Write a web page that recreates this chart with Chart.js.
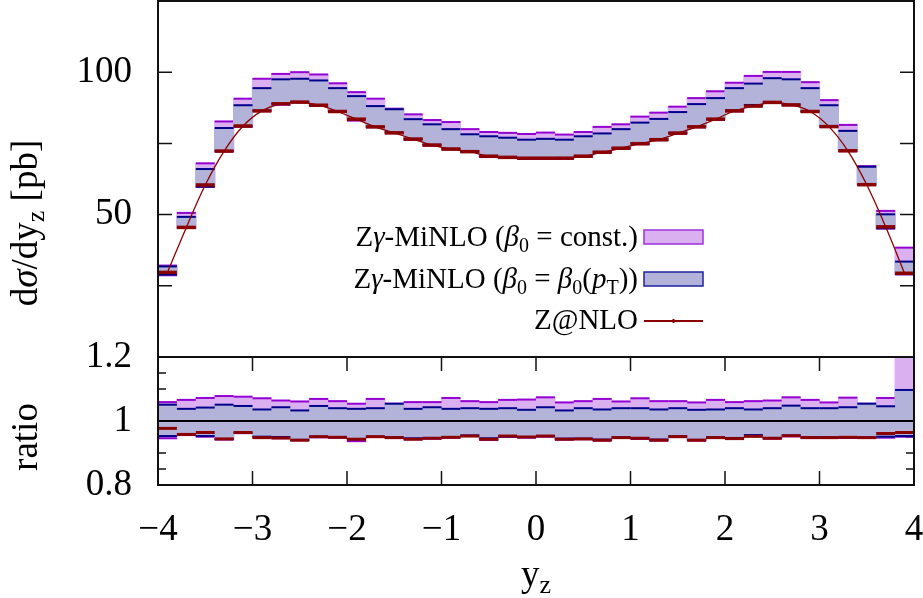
<!DOCTYPE html>
<html><head><meta charset="utf-8">
<script src="https://cdn.jsdelivr.net/npm/chart.js@4.4.0/dist/chart.umd.min.js"></script>
<style>
html,body{margin:0;padding:0;background:#fff;width:923px;height:598px;overflow:hidden;}
canvas{position:absolute;left:0;}
#c1{top:0;}
#c2{top:330px;}
</style></head><body>
<canvas id="c1" width="923" height="370"></canvas>
<canvas id="c2" width="923" height="268"></canvas>
<script>
// ---------------- data ----------------
const binCentres = [-3.9,-3.7,-3.5,-3.3,-3.1,-2.9,-2.7,-2.5,-2.3,-2.1,-1.9,-1.7,-1.5,-1.3,-1.1,-0.9,-0.7,-0.5,-0.3,-0.1,
                    0.1,0.3,0.5,0.7,0.9,1.1,1.3,1.5,1.7,1.9,2.1,2.3,2.5,2.7,2.9,3.1,3.3,3.5,3.7,3.9];

// d sigma / dy_z [pb]
const constHi = [32.1,50.6,68.0,82.7,90.7,97.7,99.4,100.0,99.2,96.1,93.0,90.7,87.2,85.2,83.2,82.5,80.0,79.0,78.7,78.3,
                 78.8,78.1,79.0,80.8,81.7,84.4,85.8,87.9,90.9,93.3,96.3,98.7,100.1,100.1,96.5,90.2,81.5,67.0,51.3,38.4];
const constLo = [28.7,45.3,59.7,72.2,80.9,86.4,88.6,89.4,88.3,86.1,83.0,80.7,78.6,76.3,74.3,72.9,72.0,70.2,69.9,69.6,
                 69.6,69.6,70.4,71.7,73.2,74.7,76.1,78.5,80.7,83.4,86.3,88.3,89.3,88.4,86.1,80.8,72.3,60.4,45.1,29.0];
const ptHi    = [31.8,49.2,66.0,80.4,88.4,94.4,97.5,97.7,97.1,94.4,91.6,88.1,87.0,83.5,81.7,80.0,78.2,77.5,77.0,76.3,
                 76.6,76.3,77.5,78.5,80.0,82.3,83.6,86.0,88.8,90.9,94.4,96.0,97.9,97.5,94.4,88.4,79.4,66.8,50.1,33.5];
const ptLo    = [28.9,45.4,59.8,72.3,81.0,86.5,88.9,89.5,88.4,86.3,83.5,80.8,78.8,76.6,74.5,73.1,72.2,70.6,70.1,69.8,
                 69.8,69.9,70.6,72.0,73.4,75.0,76.4,78.7,80.9,83.6,86.6,88.5,89.5,88.6,86.3,81.0,72.5,60.6,45.2,29.1];
const zNLO    = [29.7,45.5,60.4,72.3,81.1,86.4,88.9,89.5,88.4,86.2,83.5,80.8,78.7,76.5,74.4,73.0,72.1,70.5,70.1,69.8,
                 69.8,69.8,70.5,71.9,73.3,74.9,76.3,78.6,80.8,83.5,86.4,88.1,89.4,88.5,86.2,80.9,72.4,60.5,45.7,29.4];

// ratio panel
const rConstHi = [1.059,1.066,1.072,1.078,1.076,1.071,1.064,1.061,1.069,1.062,1.054,1.069,1.054,1.059,1.059,1.072,1.062,1.059,1.066,1.067,
                  1.074,1.058,1.062,1.069,1.061,1.071,1.062,1.062,1.058,1.066,1.059,1.062,1.064,1.074,1.066,1.058,1.073,1.054,1.072,1.250];
const rConstLo = [0.946,0.956,0.951,0.942,0.962,0.950,0.946,0.940,0.949,0.948,0.937,0.950,0.947,0.943,0.945,0.948,0.953,0.941,0.950,0.948,
                  0.951,0.942,0.943,0.939,0.947,0.944,0.939,0.950,0.939,0.947,0.944,0.954,0.945,0.952,0.947,0.947,0.947,0.947,0.948,0.951];
const rPtHi    = [1.051,1.038,1.042,1.051,1.047,1.036,1.043,1.033,1.047,1.040,1.038,1.040,1.054,1.038,1.043,1.038,1.040,1.038,1.040,1.035,
                  1.043,1.033,1.040,1.036,1.040,1.040,1.036,1.040,1.035,1.036,1.040,1.036,1.040,1.048,1.040,1.040,1.043,1.054,1.046,1.097];
const rPtLo    = [0.953,0.958,0.953,0.944,0.963,0.951,0.950,0.941,0.951,0.950,0.943,0.951,0.949,0.946,0.947,0.950,0.955,0.946,0.952,0.950,
                  0.953,0.945,0.945,0.942,0.949,0.947,0.942,0.952,0.941,0.949,0.947,0.956,0.947,0.955,0.949,0.949,0.950,0.949,0.951,0.953];
const rZNLO    = [0.977,0.958,0.964,0.944,0.964,0.948,0.947,0.940,0.951,0.949,0.943,0.951,0.948,0.943,0.946,0.949,0.953,0.943,0.953,0.950,
                  0.953,0.943,0.944,0.940,0.948,0.946,0.940,0.951,0.940,0.948,0.945,0.952,0.946,0.954,0.948,0.948,0.949,0.948,0.961,0.964];
const ratioRef = 1;

// ticks
const xTickValues = [-4,-3,-2,-1,0,1,2,3,4];
const xTickLabels = ['\u22124','\u22123','\u22122','\u22121','0','1','2','3','4'];
const yTopLabelValues = [50,100];
const yTopLabels = ['50','100'];
const yRatioLabelValues = [0.8,1,1.2];
const yRatioLabels = ['0.8','1','1.2'];

// texts
const legendRows = [
  [{t:'Z'},{t:'\u03b3',it:1},{t:'-MiNLO ('},{t:'\u03b2',it:1},{t:'0',sub:1},{t:' = const.)'}],
  [{t:'Z'},{t:'\u03b3',it:1},{t:'-MiNLO ('},{t:'\u03b2',it:1},{t:'0',sub:1},{t:' = '},{t:'\u03b2',it:1},{t:'0',sub:1},{t:'('},{t:'p',it:1},{t:'T',sub:1},{t:'))'}],
  [{t:'Z@NLO'}]
];
const yTitleTop = [{t:'d'},{t:'\u03c3',it:1},{t:'/dy'},{t:'z',sub:1},{t:' [pb]'}];
const yTitleRatio = [{t:'ratio'}];
const xTitle = [{t:'y'},{t:'z',sub:1}];

// ---------------- styles ----------------
const FONT = '"Liberation Serif", "Times New Roman", serif';
const COL = {cFill:'#dbb0f0', cLine:'#9400d3', pFill:'#b3b3da', pLine:'#00008b', z:'#8b0000', axis:'#111'};
const OFF2 = 330;

function band(lo, hi){ return binCentres.map((x,i)=>({x:x, y:[lo[i],hi[i]]})); }
function pts(v){ return binCentres.map((x,i)=>({x:x, y:v[i]})); }
const halfBin = (c)=>{ const s=c.chart.scales.x; return s ? Math.abs(s.getPixelForValue(0.2)-s.getPixelForValue(0))/2 : 9.5; };

function segFont(s,size){ const sz = s.sub ? Math.round(size*0.7) : size; return (s.it?'italic ':'')+sz+'px '+FONT; }
function richWidth(ctx,segs,size){ let w=0; for(const s of segs){ ctx.font=segFont(s,size); w+=ctx.measureText(s.t).width; } return w; }
function drawRich(ctx,segs,x,y,size,align){
  const w = richWidth(ctx,segs,size);
  let cx = align==='right' ? x-w : (align==='center' ? x-w/2 : x);
  ctx.textAlign='left'; ctx.textBaseline='alphabetic'; ctx.fillStyle='#000';
  for(const s of segs){ ctx.font=segFont(s,size); ctx.fillText(s.t,cx,y+(s.sub?size*0.2:0)); cx+=ctx.measureText(s.t).width; }
}

function fillDS(lo,hi,fill,order){
  return {type:'bar', data:band(lo,hi), backgroundColor:fill, borderWidth:0, grouped:false,
    barPercentage:1, categoryPercentage:1, clip:0, order:order, inflateAmount:0.6};
}
function edgeDS(v,color,width,order){
  return {type:'line', data:pts(v), showLine:false, pointStyle:'line', pointRadius:halfBin,
    pointBorderWidth:width, pointBorderColor:color, pointBackgroundColor:color, borderColor:color, clip:0, order:order};
}
function bandSets(lo,hi,fill,line,order){
  return [fillDS(lo,hi,fill,order+1), edgeDS(hi,line,2,order), edgeDS(lo,line,2,order)];
}

function leftAxisFit(s){ s.width=158; s.paddingTop=0; s.paddingBottom=0; }

const framePlugin = {
  id:'frame',
  beforeDatasetsDraw(chart){
    const ctx=chart.ctx, a=chart.chartArea, y=chart.scales.y, x=chart.scales.x;
    ctx.save(); ctx.strokeStyle=COL.axis; ctx.lineWidth=1.5;
    const isRatio = chart.canvas.id==='c2';
    y.ticks.forEach(t=>{
      const p=y.getPixelForValue(t.value);
      const major = !isRatio || yRatioLabelValues.some(v=>Math.abs(v-t.value)<1e-6);
      const L = major?14:8;
      ctx.beginPath(); ctx.moveTo(a.left,p); ctx.lineTo(a.left+L,p); ctx.moveTo(a.right,p); ctx.lineTo(a.right-L,p); ctx.stroke();
    });
    if(isRatio){
      x.ticks.forEach(t=>{
        const p=x.getPixelForValue(t.value);
        ctx.beginPath(); ctx.moveTo(p,a.top); ctx.lineTo(p,a.top+14); ctx.moveTo(p,a.bottom); ctx.lineTo(p,a.bottom-14); ctx.stroke();
      });
    }
    ctx.restore();
  },
  afterDatasetsDraw(chart){
    const ctx=chart.ctx, a=chart.chartArea;
    ctx.save(); ctx.strokeStyle=COL.axis; ctx.lineWidth=2;
    ctx.strokeRect(a.left,a.top,a.right-a.left,a.bottom-a.top);
    ctx.restore();
  }
};

const textTopPlugin = {
  id:'textTop',
  afterDraw(chart){
    const ctx=chart.ctx;
    ctx.save();
    const tx=638, bx=644, bw=59;
    const base=[246,288,329];
    legendRows.forEach((r,i)=>drawRich(ctx,r,tx,base[i],29,'right'));
    ctx.fillStyle=COL.cFill; ctx.fillRect(bx,230,bw,14);
    ctx.strokeStyle='#a030e0'; ctx.lineWidth=1.5; ctx.strokeRect(bx,230,bw,14);
    ctx.fillStyle=COL.pFill; ctx.fillRect(bx,272,bw,14);
    ctx.strokeStyle='#2020a0'; ctx.strokeRect(bx,272,bw,14);
    ctx.strokeStyle=COL.z; ctx.lineWidth=2;
    ctx.beginPath(); ctx.moveTo(bx,321); ctx.lineTo(bx+bw,321); ctx.moveTo(bx+bw/2,319); ctx.lineTo(bx+bw/2,323); ctx.stroke();
    ctx.translate(37,223); ctx.rotate(-Math.PI/2);
    drawRich(ctx,yTitleTop,0,0,37,'center');
    ctx.restore();
  }
};
const textBotPlugin = {
  id:'textBot',
  afterDraw(chart){
    const ctx=chart.ctx;
    ctx.save();
    drawRich(ctx,xTitle,536,586-OFF2,37,'center');
    ctx.translate(37,437-OFF2); ctx.rotate(-Math.PI/2);
    drawRich(ctx,yTitleRatio,0,0,37,'center');
    ctx.restore();
  }
};

const common = {
  responsive:false, animation:false, devicePixelRatio:1, events:[],
  plugins:{legend:{display:false}, tooltip:{enabled:false}},
};

new Chart(document.getElementById('c1'), {
  type:'bar',
  data:{datasets:[
    ...bandSets(constLo,constHi,COL.cFill,COL.cLine,7),
    ...bandSets(ptLo,ptHi,COL.pFill,COL.pLine,4),
    edgeDS(zNLO,COL.z,3.5,2),
    {type:'line', data:pts(zNLO), borderColor:COL.z, borderWidth:1.3, pointRadius:0, tension:0.4, fill:false, order:1}
  ]},
  options:Object.assign({}, common, {
    layout:{padding:{top:1,right:9,bottom:13,left:0}},
    scales:{
      x:{type:'linear', min:-4, max:4, offset:false, display:false, ticks:{stepSize:1}},
      y:{type:'linear', min:0, max:125, grid:{display:false}, border:{display:false},
         afterFit:leftAxisFit,
         ticks:{stepSize:25, autoSkip:false, padding:18, color:'#000', font:{family:FONT,size:37},
           callback:(v)=>{ const i=yTopLabelValues.indexOf(v); return i>=0?yTopLabels[i]:''; }}}
    }
  }),
  plugins:[framePlugin,textTopPlugin]
});

new Chart(document.getElementById('c2'), {
  type:'bar',
  data:{datasets:[
    ...bandSets(rConstLo,rConstHi,COL.cFill,COL.cLine,7),
    ...bandSets(rPtLo,rPtHi,COL.pFill,COL.pLine,4),
    edgeDS(rZNLO,COL.z,3,2),
    {type:'line', data:[{x:-4,y:ratioRef},{x:4,y:ratioRef}], borderColor:'#000', borderWidth:2, pointRadius:0, order:0}
  ]},
  options:Object.assign({}, common, {
    layout:{padding:{top:27,right:9,bottom:0,left:0}},
    scales:{
      x:{type:'linear', min:-4, max:4, offset:false, grid:{display:false}, border:{display:false},
         afterFit:(s)=>{ s.height=113; s.paddingLeft=0; s.paddingRight=0; },
         ticks:{stepSize:1, autoSkip:false, maxRotation:0, padding:15, color:'#000', font:{family:FONT,size:37},
           callback:(v)=>{ const i=xTickValues.indexOf(v); return i>=0?xTickLabels[i]:''; }}},
      y:{type:'linear', min:0.8, max:1.2, grid:{display:false}, border:{display:false},
         afterFit:leftAxisFit,
         ticks:{stepSize:0.05, autoSkip:false, padding:18, color:'#000', font:{family:FONT,size:37},
           callback:(v)=>{ const i=yRatioLabelValues.findIndex(u=>Math.abs(u-v)<1e-6); return i>=0?yRatioLabels[i]:''; }}}
    }
  }),
  plugins:[framePlugin,textBotPlugin]
});
</script>
</body></html>
